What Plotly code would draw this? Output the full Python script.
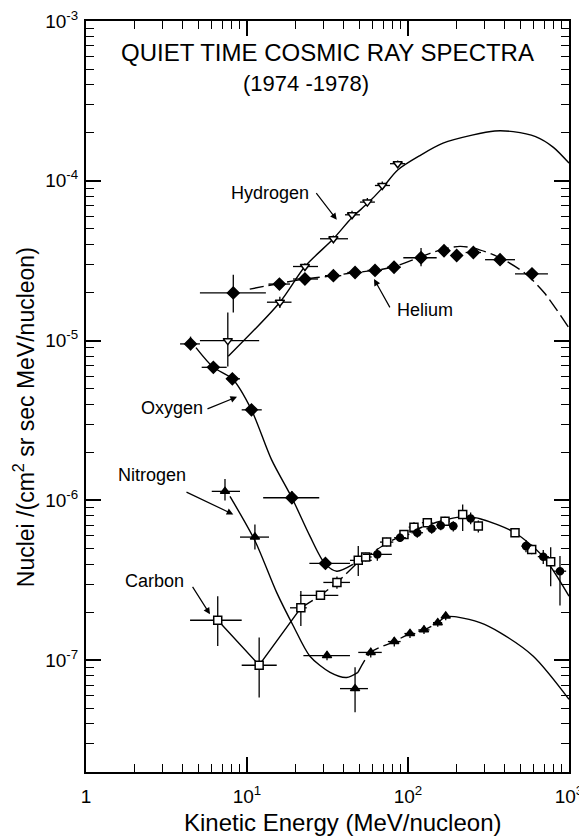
import numpy as np
import plotly.graph_objects as go

# ---------------- data ----------------
# Hydrogen (open inverted triangles)
H_E   = [7.6, 16.0, 22.9, 34.4, 44.9, 55.9, 69.2, 86.3]
H_F   = [1.00e-5, 1.74e-5, 2.91e-5, 4.34e-5, 6.13e-5, 7.36e-5, 9.35e-5, 1.28e-4]
H_Elo = [5.1, 13.3, 19.3, 28.4, 40.6, 50.3, 62.3, 77.3]
H_Ehi = [11.9, 18.9, 27.6, 42.4, 50.3, 62.3, 77.3, 95.8]
H_Flo = [6.9e-6, 1.60e-5, 2.75e-5, 4.15e-5, 5.8e-5, 6.95e-5, 8.8e-5, 1.22e-4]
H_Fhi = [1.50e-5, 1.88e-5, 3.05e-5, 4.55e-5, 6.5e-5, 7.8e-5, 9.9e-5, 1.34e-4]

# Helium (filled diamonds)
He_E   = [8.22, 15.9, 22.9, 34.4, 46.9, 62.4, 81.9, 120.5, 167.4, 200.6, 254.6, 373, 589]
He_F   = [1.99e-5, 2.26e-5, 2.43e-5, 2.55e-5, 2.67e-5, 2.75e-5, 2.88e-5, 3.30e-5, 3.65e-5, 3.41e-5, 3.56e-5, 3.21e-5, 2.62e-5]
He_Elo = [5.1, 13.6, 19.3, 30.5, 42, 56, 74, 93.5, 155, 185, 228, 301, 462]
He_Ehi = [13.1, 18.5, 27.6, 38.5, 52, 69, 90, 150.7, 180, 216, 284, 462, 740]
He_Flo = [1.50e-5, 2.15e-5, 2.33e-5, 2.46e-5, 2.58e-5, 2.66e-5, 2.75e-5, 2.92e-5, 3.45e-5, 3.2e-5, 3.35e-5, 3.05e-5, 2.4e-5]
He_Fhi = [2.58e-5, 2.38e-5, 2.54e-5, 2.65e-5, 2.77e-5, 2.85e-5, 3.0e-5, 3.80e-5, 3.9e-5, 3.6e-5, 3.8e-5, 3.4e-5, 2.85e-5]

# Oxygen, low energy (filled diamonds)
O1_E   = [4.46, 6.18, 8.11, 10.66, 19.0, 30.7]
O1_F   = [9.54e-6, 6.81e-6, 5.77e-6, 3.69e-6, 1.04e-6, 4.04e-7]
O1_Elo = [3.84, 5.23, 7.48, 9.27, 12.6, 24.4]
O1_Ehi = [5.10, 7.48, 9.05, 12.35, 28.1, 43.6]
O1_Flo = [8.7e-6, 6.4e-6, 5.4e-6, 3.45e-6, 9.5e-7, 3.75e-7]
O1_Fhi = [1.06e-5, 7.3e-6, 6.2e-6, 3.95e-6, 1.14e-6, 4.35e-7]

# Oxygen, high energy (filled circles)
O2_E   = [64.5, 89.2, 114.2, 140.3, 159.7, 191.1, 245, 540.6, 692, 879]
O2_F   = [4.6e-7, 5.85e-7, 6.28e-7, 6.65e-7, 6.98e-7, 6.91e-7, 7.72e-7, 5.18e-7, 4.45e-7, 3.61e-7]
O2_Elo = [52.4, 82, 105, 130, 150, 180, 230, 505, 640, 800]
O2_Ehi = [79.4, 97, 124, 151, 170, 203, 262, 580, 750, 960]
O2_Flo = [4.2e-7, 5.5e-7, 5.85e-7, 6.2e-7, 6.5e-7, 6.4e-7, 7.1e-7, 4.75e-7, 4.0e-7, 2.2e-7]
O2_Fhi = [5.0e-7, 6.2e-7, 6.7e-7, 7.1e-7, 7.5e-7, 7.4e-7, 8.4e-7, 5.65e-7, 4.9e-7, 4.5e-7]

# Carbon (open squares)
C_E   = [6.58, 11.9, 21.6, 28.6, 36.2, 49.1, 54.6, 73.7, 94.4, 108.9, 131.8, 169.8, 218.6, 273.4, 462, 586.6, 769.6]
C_F   = [1.78e-7, 9.31e-8, 2.13e-7, 2.55e-7, 3.07e-7, 4.22e-7, 4.43e-7, 5.49e-7, 6.13e-7, 6.81e-7, 7.26e-7, 7.42e-7, 8.18e-7, 6.91e-7, 6.28e-7, 4.94e-7, 4.14e-7]
C_Elo = [4.43, 9.27, 18.5, 21.3, 29.8, 43.6, 50.5, 67, 87, 101, 122, 158, 205, 260, 440, 560, 730]
C_Ehi = [9.27, 15.3, 23.5, 36.9, 43.6, 59.5, 59.5, 81, 102, 117, 142, 182, 233, 287, 485, 615, 810]
C_Flo = [1.23e-7, 5.85e-8, 1.64e-7, 2.4e-7, 2.8e-7, 3.37e-7, 4.15e-7, 5.15e-7, 5.75e-7, 6.35e-7, 6.8e-7, 6.95e-7, 6.43e-7, 6.3e-7, 5.9e-7, 4.6e-7, 2.91e-7]
C_Fhi = [2.52e-7, 1.39e-7, 2.71e-7, 2.7e-7, 3.35e-7, 5.18e-7, 4.7e-7, 5.85e-7, 6.5e-7, 7.3e-7, 7.75e-7, 7.9e-7, 9.44e-7, 7.5e-7, 6.7e-7, 5.3e-7, 5.09e-7]

# Nitrogen (filled triangles)
N_E   = [7.30, 11.2, 31.4, 46.9, 58.7, 82.2, 102.9, 125.7, 153, 171.5]
N_F   = [1.14e-6, 5.9e-7, 1.07e-7, 6.65e-8, 1.12e-7, 1.31e-7, 1.47e-7, 1.55e-7, 1.72e-7, 1.89e-7]
N_Elo = [6.04, 9.05, 22.4, 37.8, 49.1, 75, 95, 116, 143, 163]
N_Ehi = [9.05, 13.7, 43.6, 56.4, 68.7, 90, 111, 136, 163, 180]
N_Flo = [1.0e-6, 4.94e-7, 1.0e-7, 4.73e-8, 1.04e-7, 1.22e-7, 1.38e-7, 1.46e-7, 1.62e-7, 1.78e-7]
N_Fhi = [1.36e-6, 7.08e-7, 1.14e-7, 9.04e-8, 1.2e-7, 1.4e-7, 1.56e-7, 1.65e-7, 1.82e-7, 2.0e-7]

# Fitted curves
H_fit_E = [7.65, 16.0, 22.9, 34.4, 44.9, 55.9, 69.2, 86.3, 120, 165, 250, 346, 450, 620, 800, 1000]
H_fit_F = [7.98e-6, 1.74e-5, 2.91e-5, 4.34e-5, 5.9e-5, 7.2e-5, 9.0e-5, 1.17e-4, 1.45e-4, 1.72e-4, 1.93e-4, 2.05e-4, 2.03e-4, 1.89e-4, 1.62e-4, 1.29e-4]

He_fit_E = [10.4, 15.9, 22.9, 34.4, 46.9, 62.4, 81.9, 120, 160, 210, 260, 373, 530, 700, 1000]
He_fit_F = [2.1e-5, 2.28e-5, 2.43e-5, 2.55e-5, 2.67e-5, 2.75e-5, 2.9e-5, 3.35e-5, 3.7e-5, 3.89e-5, 3.78e-5, 3.3e-5, 2.65e-5, 2.0e-5, 1.2e-5]

O_fit_E = [4.82, 6.18, 8.11, 10.66, 14.2, 19.0, 24.6, 30.4, 36.1, 45.5]
O_fit_F = [9.05e-6, 6.81e-6, 5.77e-6, 3.69e-6, 1.80e-6, 1.04e-6, 5.98e-7, 4.04e-7, 3.61e-7, 3.98e-7]

C_low_E = [6.58, 11.9, 21.6]
C_low_F = [1.78e-7, 9.31e-8, 2.13e-7]

CO_dash_E = [21.6, 28.6, 36.2, 49.1, 54.6, 73.7, 94.4, 131.8, 190, 230]
CO_dash_F = [2.13e-7, 2.55e-7, 3.07e-7, 4.1e-7, 4.4e-7, 5.4e-7, 6.1e-7, 7.0e-7, 7.75e-7, 7.98e-7]
CO_solid_E = [230, 280, 356, 462, 692, 1000]
CO_solid_F = [7.98e-7, 7.69e-7, 7.08e-7, 6.28e-7, 4.45e-7, 2.52e-7]

N_fit1_E = [7.84, 11.2, 15.3, 19.4, 24.6, 32.8, 41.6, 48.9]
N_fit1_F = [1.06e-6, 5.6e-7, 2.65e-7, 1.64e-7, 1.06e-7, 8.4e-8, 7.8e-8, 8.4e-8]
N_fit2_E = [48.9, 58.7, 82.2, 102.9, 125.7, 153, 171.5]
N_fit2_F = [8.4e-8, 1.12e-7, 1.31e-7, 1.47e-7, 1.55e-7, 1.72e-7, 1.89e-7]
N_fit3_E = [171.5, 200, 280, 373, 600, 1000]
N_fit3_F = [1.89e-7, 1.87e-7, 1.72e-7, 1.49e-7, 1.06e-7, 5.7e-8]

# Axis ticks
X_TICKS = [1, 10, 100, 1000]
X_TICKTEXT = ["1", "10<sup>1</sup>", "10<sup>2</sup>", "10<sup>3</sup>"]
Y_TICKS = [1e-7, 1e-6, 1e-5, 1e-4, 1e-3]
Y_TICKTEXT = ["10<sup>-7</sup>", "10<sup>-6</sup>", "10<sup>-5</sup>", "10<sup>-4</sup>", "10<sup>-3</sup>"]

# Labels: (text, label energy, label flux, arrow tail E, tail F, arrow tip E, tip F)
LABELS = [
    ("Hydrogen", 13.8, 8.45e-5, 26.5, 8.57e-5, 36.1, 5.70e-5),
    ("Helium",   128,  1.56e-5, 78.1, 1.58e-5, 61.5, 2.43e-5),
    ("Oxygen",   3.40, 3.78e-6, 5.56, 3.71e-6, 8.67, 4.45e-6),
    ("Nitrogen", 2.57, 1.44e-6, 4.12, 1.14e-6, 8.22, 8.18e-7),
    ("Carbon",   2.68, 3.13e-7, 4.53, 2.94e-7, 5.89, 1.94e-7),
]

TITLE = "QUIET TIME COSMIC RAY SPECTRA"
SUBTITLE = "(1974 -1978)"
X_TITLE = "Kinetic Energy (MeV/nucleon)"
Y_TITLE = "Nuclei /(cm<sup>2</sup> sr sec MeV/nucleon)"

# ---------------- figure ----------------
FONT = "Liberation Sans"
fig = go.Figure()


def curve(E, F, dash="solid", smooth=0.8):
    return go.Scatter(x=E, y=F, mode="lines",
                      line=dict(color="black", width=1.4, dash=dash, shape="spline", smoothing=smooth),
                      hoverinfo="skip")


def points(E, F, Elo, Ehi, Flo, Fhi, symbol, size, fill):
    E = np.array(E); F = np.array(F)
    return go.Scatter(
        x=E, y=F, mode="markers",
        marker=dict(symbol=symbol, size=size, color=fill, line=dict(color="black", width=1.5)),
        error_x=dict(type="data", symmetric=False, array=np.array(Ehi) - E, arrayminus=E - np.array(Elo),
                     thickness=1.3, width=0, color="black"),
        error_y=dict(type="data", symmetric=False, array=np.array(Fhi) - F, arrayminus=F - np.array(Flo),
                     thickness=1.3, width=0, color="black"),
    )


LD = "14px,5px"
fig.add_trace(curve(H_fit_E, H_fit_F))
fig.add_trace(curve(He_fit_E, He_fit_F, dash=LD))
fig.add_trace(curve(O_fit_E, O_fit_F))
fig.add_trace(go.Scatter(x=C_low_E, y=C_low_F, mode="lines", line=dict(color="black", width=1.4), hoverinfo="skip"))
fig.add_trace(curve(CO_dash_E, CO_dash_F, dash=LD))
fig.add_trace(curve(CO_solid_E, CO_solid_F))
fig.add_trace(curve(N_fit1_E, N_fit1_F))
fig.add_trace(curve(N_fit2_E, N_fit2_F, dash=LD))
fig.add_trace(curve(N_fit3_E, N_fit3_F))

fig.add_trace(points(H_E, H_F, H_Elo, H_Ehi, H_Flo, H_Fhi, "triangle-down", 8, "white"))
fig.add_trace(points(He_E, He_F, He_Elo, He_Ehi, He_Flo, He_Fhi, "diamond", 9, "black"))
fig.add_trace(points(O1_E, O1_F, O1_Elo, O1_Ehi, O1_Flo, O1_Fhi, "diamond", 9, "black"))
fig.add_trace(points(C_E, C_F, C_Elo, C_Ehi, C_Flo, C_Fhi, "square", 8, "white"))
fig.add_trace(points(O2_E, O2_F, O2_Elo, O2_Ehi, O2_Flo, O2_Fhi, "circle", 7, "black"))
fig.add_trace(points(N_E, N_F, N_Elo, N_Ehi, N_Flo, N_Fhi, "triangle-up", 8, "black"))

for text, lx, ly, tx, ty, hx, hy in LABELS:
    fig.add_annotation(x=np.log10(lx), y=np.log10(ly), xref="x", yref="y", text=text, showarrow=False,
                       xanchor="center", yanchor="middle",
                       font=dict(family=FONT, size=18, color="black"))
    fig.add_annotation(x=np.log10(hx), y=np.log10(hy), ax=np.log10(tx), ay=np.log10(ty),
                       xref="x", yref="y", axref="x", ayref="y", text="", showarrow=True,
                       arrowhead=2, arrowsize=1.1, arrowwidth=1.2, arrowcolor="black")

fig.add_annotation(x=0.5, y=0.9574, xref="paper", yref="paper", text=TITLE, showarrow=False,
                   xanchor="center", yanchor="middle",
                   font=dict(family=FONT, size=24, color="black"))
fig.add_annotation(x=0.455, y=0.9174, xref="paper", yref="paper", text=SUBTITLE, showarrow=False,
                   xanchor="center", yanchor="middle",
                   font=dict(family=FONT, size=22, color="black"))
fig.add_annotation(x=0.532, y=-0.0666, xref="paper", yref="paper", text=X_TITLE, showarrow=False,
                   xanchor="center", yanchor="middle",
                   font=dict(family=FONT, size=24, color="black"))
fig.add_annotation(x=-0.128, y=0.4727, xref="paper", yref="paper", text=Y_TITLE, showarrow=False,
                   xanchor="center", yanchor="middle", textangle=-90,
                   font=dict(family=FONT, size=23, color="black"))

x_minor = [m * 10 ** k for k in range(0, 3) for m in range(2, 10)]
y_minor = [m * 10.0 ** k for k in range(-8, -3) for m in range(2, 10)]

axis_common = dict(type="log", ticks="inside", ticklen=15, tickwidth=1.5, tickcolor="black",
                   mirror="allticks", showline=True, linewidth=2, linecolor="black",
                   showgrid=False, zeroline=False, ticklabeloverflow="allow", automargin=False,
                   tickfont=dict(family=FONT, size=19, color="black"))

fig.update_xaxes(range=[0, 3], tickmode="array", tickvals=X_TICKS, ticktext=X_TICKTEXT,
                 ticklabelstandoff=6,
                 minor=dict(ticks="inside", ticklen=8, tickwidth=1.2, tickcolor="black",
                            tickmode="array", tickvals=x_minor, showgrid=False),
                 **axis_common)
fig.update_yaxes(range=[np.log10(2e-8), -3], tickmode="array", tickvals=Y_TICKS, ticktext=Y_TICKTEXT,
                 ticklabelstandoff=2,
                 minor=dict(ticks="inside", ticklen=8, tickwidth=1.2, tickcolor="black",
                            tickmode="array", tickvals=y_minor, showgrid=False),
                 **axis_common)

fig.update_layout(width=579, height=838, margin=dict(l=86, r=10, t=21, b=66, autoexpand=False),
                  paper_bgcolor="white", plot_bgcolor="white", showlegend=False,
                  font=dict(family=FONT, color="black"))

fig.write_html("out.html")
